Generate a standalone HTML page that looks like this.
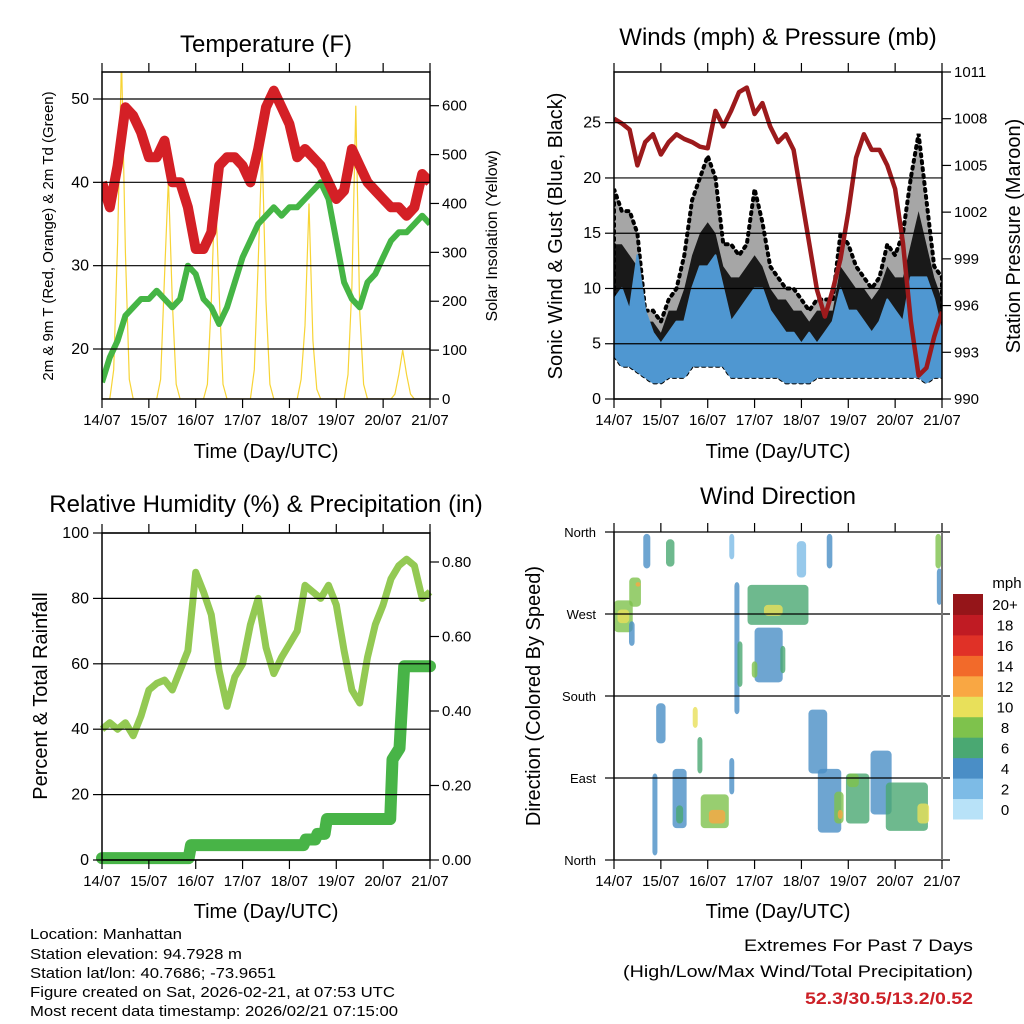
<!DOCTYPE html>
<html><head><meta charset="utf-8">
<style>
html,body{margin:0;padding:0;background:#fff;}
svg{display:block;font-family:"Liberation Sans",sans-serif;}
</style></head>
<body>
<svg id="chart" width="1024" height="1024" viewBox="0 0 1024 1024" xmlns="http://www.w3.org/2000/svg"></svg>
<script>
// ---------- DATA (4-hour steps, t = days since 14/07) ----------
const dayLabels = ["14/07","15/07","16/07","17/07","18/07","19/07","20/07","21/07"];
const tempT = [40,37,42,49,48,46,43,43,45,40,40,37,32,32,34,42,43,43,42,40,44,49,51,49,47,43,44,43,42,40,38,39,44,42,40,39,38,37,37,36,37,41,40];
const dewT = [16,19,21,24,25,26,26,27,26,25,26,30,29,26,25,23,25,28,31,33,35,36,37,36,37,37,38,39,40,38,33,28,26,25,28,29,31,33,34,34,35,36,35];
// solar, 2-hour steps
const solar = [0,0,0,60,320,700,300,40,0,0,0,0,
               0,0,0,40,250,450,200,30,0,0,0,0,
               0,0,0,30,200,440,220,30,0,0,0,0,
               0,0,0,60,280,520,200,30,0,0,0,0,
               0,0,0,40,150,400,120,20,0,0,0,0,
               0,0,0,50,230,600,180,30,0,0,0,0,
               0,0,0,10,50,100,50,10,0,0,0,0,0];
const tempTicks = [20,30,40,50];
const solarTicks = [0,100,200,300,400,500,600];

const pressure = [1008,1007.7,1007.3,1005,1006.5,1007,1005.7,1006.5,1007,1006.7,1006.5,1006.2,1006.1,1008.5,1007.5,1008.5,1009.7,1010,1008.3,1009,1007.5,1006.5,1007,1006,1003,1000,997,995.3,997,999,1002,1005.5,1007,1006,1006,1005,1003.5,1000,995,991.5,992,994,995.6];
const windMax = [9,10,8,13,8,6,5,6,7,7,10,12,12,13,10,7,8,9,10,10,8,7,6,6,5,6,5,6,7,10,8,8,7,6,7,9,8,7,11,11,11,9,6];
const windMin = [4,3,3,2.5,2,1.5,1.5,2,2,2,3,3,3,3,3,2,2,2,2,2,2,2,1.5,1.5,1.5,1.5,2,2,2,2,2,2,2,2,2,2,2,2,2,2,1.5,2,2];
const gustDense = [14,14,13,12,7,7,6,8,8,10,13,15,16,15,12,11,11,12,13,12,10,9,9,8,8,7,8,8,8,12,11,10,10,9,10,12,11,11,14,17,14,11,9];
const gustMax = [19,17,17,15,8,8,7,9,10,13,18,20,22,20,14,14,13,14,19,16,12,11,10,10,9,8,9,9,9,15,14,12,11,10,11,14,13,15,20,24,18,12,11];
const windTicks = [0,5,10,15,20,25];
const pressTicks = [990,993,996,999,1002,1005,1008,1011];

const rh = [40,42,40,42,38,44,52,54,55,52,58,64,88,82,75,58,47,56,60,72,80,65,57,62,66,70,84,82,80,84,78,64,52,48,62,72,78,86,90,92,90,80,82];
const precipT = [0,1.85,1.9,4.3,4.35,4.55,4.6,4.75,4.8,6.15,6.2,6.35,6.45,7.0];
const precipV = [0.005,0.005,0.04,0.04,0.055,0.055,0.07,0.07,0.11,0.11,0.27,0.3,0.52,0.52];
const rhTicks = [0,20,40,60,80,100];
const precipTicks = [0,0.2,0.4,0.6,0.8];

// wind direction clusters: time, dir low, dir high, speed, width(days)
const dirTime = [0.2,0.2,0.45,0.5,0.7,0.38,1.2,1.0,0.85,1.4,1.4,1.72,1.82,2.15,2.2,2.5,2.5,2.62,2.66,3.5,3.4,3.3,3.0,3.6,4.6,4.0,4.35,4.6,4.8,4.8,5.2,5.1,5.7,6.25,6.6,6.92,6.92];
const dirLow = [250,260,278,300,320,235,322,128,5,35,40,145,95,35,40,72,330,160,190,258,268,195,200,205,320,310,95,30,40,45,40,80,50,32,40,320,280];
const dirHigh = [285,275,310,305,358,262,352,172,95,100,60,168,135,72,55,112,358,305,240,302,280,255,218,235,358,350,165,100,75,55,95,95,120,85,62,358,320];
const dirSpeed = [8,10,7,12,4,4,5,4,3,4,6,9,6,8,12,4,2,4,6,6,10,4,7,6,4,2,4,4,8,11,5,7,4,6,10,7,4];
const dirWidth = [0.4,0.25,0.25,0.08,0.15,0.12,0.18,0.2,0.06,0.3,0.15,0.08,0.08,0.6,0.35,0.08,0.08,0.1,0.05,1.3,0.4,0.6,0.12,0.1,0.12,0.2,0.4,0.5,0.2,0.05,0.5,0.25,0.45,0.9,0.25,0.12,0.06];
const dirTickLabels = ["North","East","South","West","North"];
const legendLabels = ["0","2","4","6","8","10","12","14","16","18","20+"];
const legendColors = ["#b8e2f8","#7dbbe6","#4a8ec6","#4aa872","#7ec24c","#e8e05a","#f9a743","#f26a2a","#e03127","#c01b23","#951519"];

// ---------- HELPERS ----------
const NS="http://www.w3.org/2000/svg";
const svg=document.getElementById('chart');
function mk(tag,attrs,parent){const e=document.createElementNS(NS,tag);for(const k in attrs)e.setAttribute(k,attrs[k]);(parent||svg).appendChild(e);return e;}
function txt(s,x,y,size,anchor,parent,extra){const e=mk('text',Object.assign({x:x,y:y,'font-size':size,'text-anchor':anchor||'start',fill:'#000'},extra||{}),parent);e.textContent=s;return e;}
function lin(d0,d1,r0,r1){return v=>r0+(v-d0)/(d1-d0)*(r1-r0);}
function pathFrom(xs,ys){return xs.map((x,i)=>(i?'L':'M')+x.toFixed(1)+' '+ys[i].toFixed(1)).join(' ');}
function bandPath(xx,top,bot){return pathFrom(xx,top)+' '+pathFrom(xx.slice().reverse(),bot.slice().reverse()).replace('M','L')+' Z';}

function frame(g,X0,X1,Y0,Y1,xs,leftTicks,ly,leftLabels,rightTicks,ry,rightLabels){
  leftTicks.forEach(v=>{const l=mk('line',{x1:X0,x2:X1,y1:ly(v),y2:ly(v),stroke:'#000','stroke-width':1.2},g);
    
    });
  const b=mk('rect',{x:X0,y:Y0,width:X1-X0,height:Y1-Y0,fill:'none',stroke:'#000','stroke-width':1.5},g);
  
  
  for(let d=0;d<=7;d++){const x=xs(d);
    mk('line',{x1:x,x2:x,y1:Y0-9,y2:Y0,stroke:'#000','stroke-width':1.2},g);
    mk('line',{x1:x,x2:x,y1:Y1,y2:Y1+9,stroke:'#000','stroke-width':1.2},g);
    const t=txt(dayLabels[d],x,Y1+26,15,'middle',g);
    
    
  }
  leftTicks.forEach((v,i)=>{const y=ly(v);
    mk('line',{x1:X0-9,x2:X0,y1:y,y2:y,stroke:'#000','stroke-width':1.2},g);
    const t=txt(leftLabels[i],X0-13,y+5,16,'end',g);
    
    
  });
  if(rightTicks){rightTicks.forEach((v,i)=>{const y=ry(v);
    mk('line',{x1:X1,x2:X1+9,y1:y,y2:y,stroke:'#000','stroke-width':1.2},g);
    const t=txt(rightLabels[i],X1+12,y+5,15,'start',g);
    
    
  });}
}
function title(s,x,y,size){const t=txt(s,x,y,size||24,'middle');
  
  return t;}
function vlabel(s,x,y,size,name){const t=txt(s,0,0,size,'middle',null,{transform:'translate('+x+','+y+') rotate(-90)'});
  
  return t;}

const step=1/6;
const T43=tempT.map((_,i)=>i*step);

// ---------- PANEL 1: TEMPERATURE ----------
(function(){
  const g=mk('g',{});  
  const X0=102,X1=430,Y0=72,Y1=399;
  const xs=lin(0,7,X0,X1), ly=lin(50,20,99,349), ry=lin(0,600,399,105.7);
  const clip=mk('clipPath',{id:'c1'},g); mk('rect',{x:X0,y:Y0,width:X1-X0,height:Y1-Y0},clip);
  const pg=mk('g',{'clip-path':'url(#c1)'},g);
  const st=solar.map((_,i)=>i/12);
  const s=mk('path',{d:pathFrom(st.map(xs),solar.map(ry)),fill:'none',stroke:'#f7d436','stroke-width':1.2},pg);
   
  const d=mk('path',{d:pathFrom(T43.map(xs),dewT.map(ly)),fill:'none',stroke:'#45b545','stroke-width':6,'stroke-linejoin':'round'},pg);
   
  const r=mk('path',{d:pathFrom(T43.map(xs),tempT.map(ly)),fill:'none',stroke:'#d42026','stroke-width':10,'stroke-linejoin':'round'},pg);
   
  frame(g,X0,X1,Y0,Y1,xs,tempTicks,ly,tempTicks.map(String),solarTicks,ry,solarTicks.map(String));
  title('Temperature (F)',266,52);
  vlabel('2m & 9m T (Red, Orange) & 2m Td (Green)',53,236,15,'y-axis-title');
  vlabel('Solar Insolation (Yellow)',497,236,16,'y2-axis-title');
  const xt=txt('Time (Day/UTC)',266,458,20,'middle');  
})();

// ---------- PANEL 2: WINDS ----------
(function(){
  const g=mk('g',{});  
  const X0=614,X1=942,Y0=72,Y1=399;
  const xs=lin(0,7,X0,X1), ly=lin(0,25,399,122.7), ry=lin(990,1011,399,72);
  const clip=mk('clipPath',{id:'c2'},g); mk('rect',{x:X0,y:Y0,width:X1-X0,height:Y1-Y0},clip);
  const pg=mk('g',{'clip-path':'url(#c2)'},g);
  const xx=T43.map(xs);
  const gs=mk('path',{d:bandPath(xx,gustMax.map(ly),windMin.map(ly)),fill:'#000','fill-opacity':0.35,stroke:'#000','stroke-width':4,'stroke-dasharray':'2 5','stroke-linecap':'round'},pg);
   
  const gp=mk('path',{d:bandPath(xx,gustDense.map(ly),windMin.map(ly)),fill:'#000','fill-opacity':0.85,stroke:'none'},pg);
   
  const bp=mk('path',{d:bandPath(xx,windMax.map(ly),windMin.map(ly)),fill:'#4f97d1',stroke:'#4f97d1','stroke-width':2,'stroke-linejoin':'round'},pg);
   
  const p=mk('path',{d:pathFrom(xx,pressure.map(ry)),fill:'none',stroke:'#9c1a1c','stroke-width':4.5,'stroke-linejoin':'round'},pg);
   
  frame(g,X0,X1,Y0,Y1,xs,windTicks,ly,windTicks.map(String),pressTicks,ry,pressTicks.map(String));
  title('Winds (mph) & Pressure (mb)',778,45);
  vlabel('Sonic Wind & Gust (Blue, Black)',562,236,20,'y-axis-title');
  vlabel('Station Pressure (Maroon)',1020,236,20,'y2-axis-title');
  const xt=txt('Time (Day/UTC)',778,458,20,'middle');  
})();

// ---------- PANEL 3: RH & PRECIP ----------
(function(){
  const g=mk('g',{});  
  const X0=102,X1=430,Y0=533,Y1=860;
  const xs=lin(0,7,X0,X1), ly=lin(0,100,860,533), ry=lin(0,0.8,860,562);
  const clip=mk('clipPath',{id:'c3'},g); mk('rect',{x:X0-8,y:Y0,width:X1-X0+16,height:Y1-Y0+8},clip);
  const pg=mk('g',{'clip-path':'url(#c3)'},g);
  const h=mk('path',{d:pathFrom(T43.map(xs),rh.map(ly)),fill:'none',stroke:'#93c953','stroke-width':7,'stroke-linejoin':'round'},pg);
   
  const pr=mk('path',{d:pathFrom(precipT.map(xs),precipV.map(ry)),fill:'none',stroke:'#48b447','stroke-width':12,'stroke-linejoin':'round','stroke-linecap':'round'},pg);
   
  frame(g,X0,X1,Y0,Y1,xs,rhTicks,ly,rhTicks.map(String),precipTicks,ry,precipTicks.map(v=>v.toFixed(2)));
  title('Relative Humidity (%) & Precipitation (in)',266,512);
  vlabel('Percent & Total Rainfall',47,696,20,'y-axis-title');
  const xt=txt('Time (Day/UTC)',266,918,20,'middle');  
})();

// ---------- PANEL 4: WIND DIRECTION ----------
(function(){
  const g=mk('g',{});  
  const X0=614,X1=942,Y0=532,Y1=860;
  const xs=lin(0,7,X0,X1), ly=lin(0,360,860,532);
  const cg=mk('g',{},g);
  dirTime.forEach((t,i)=>{
    const x0=xs(t-dirWidth[i]/2), x1=xs(t+dirWidth[i]/2);
    const idx=Math.min(10,Math.round(dirSpeed[i]/2));
    const r=mk('rect',{x:x0,y:ly(dirHigh[i]),width:Math.max(5,x1-x0),height:ly(dirLow[i])-ly(dirHigh[i]),rx:4,fill:legendColors[idx],'fill-opacity':0.8},cg);
    
    
  });
  const dt=[0,90,180,270,360];
  dt.forEach(v=>{const l=mk('line',{x1:X0,x2:X1+8,y1:ly(v),y2:ly(v),stroke:'#000','stroke-width':1.2},g);
     });
  mk('line',{x1:X0,x2:X0,y1:Y0,y2:Y1,stroke:'#000','stroke-width':1.5},g);
  mk('line',{x1:X1,x2:X1,y1:Y0,y2:Y1,stroke:'#777','stroke-width':2},g);
  for(let d=0;d<=7;d++){const x=xs(d);
    mk('line',{x1:x,x2:x,y1:Y0-9,y2:Y0,stroke:'#000','stroke-width':1.2},g);
    mk('line',{x1:x,x2:x,y1:Y1,y2:Y1+9,stroke:'#000','stroke-width':1.2},g);
    const t=txt(dayLabels[d],x,Y1+26,15,'middle',g);
     }
  dt.forEach((v,i)=>{const y=ly(v);
    mk('line',{x1:X0-9,x2:X0,y1:y,y2:y,stroke:'#000','stroke-width':1.2},g);
    const t=txt(dirTickLabels[i],X0-18,y+5,13,'end',g);
     });
  title('Wind Direction',778,504);
  vlabel('Direction (Colored By Speed)',540,696,20,'y-axis-title');
  const xt=txt('Time (Day/UTC)',778,918,20,'middle');  
  const lg=mk('g',{},g);  
  const bh=(819-594)/11;
  legendColors.forEach((c,i)=>{const y=819-(i+1)*bh;
    const r=mk('rect',{x:953,y:y,width:30,height:bh+0.5,fill:c},lg);
     
    const t=txt(legendLabels[i],1005,y+bh/2+6,15,'middle',lg);
     });
  const m=txt('mph',1007,588,15,'middle',lg);  
})();

// ---------- FOOTER ----------
(function(){
  const g=mk('g',{});  
  const lines=["Location: Manhattan","Station elevation: 94.7928 m","Station lat/lon: 40.7686; -73.9651","Figure created on Sat, 2026-02-21, at 07:53 UTC","Most recent data timestamp: 2026/02/21 07:15:00"];
  const widths=[152,212,246,365,368];
  const ys=[939,959,978,997,1016];
  lines.forEach((s,i)=>{const t=txt(s,30,ys[i],15,'start',g,{textLength:widths[i],lengthAdjust:'spacingAndGlyphs'});
     });
  const a=txt('Extremes For Past 7 Days',973,951,17,'end',g,{textLength:229,lengthAdjust:'spacingAndGlyphs'});
   
  const b=txt('(High/Low/Max Wind/Total Precipitation)',973,977,17,'end',g,{textLength:350,lengthAdjust:'spacingAndGlyphs'});
   
  const c=txt('52.3/30.5/13.2/0.52',973,1004,17,'end',g,{fill:'#cc2027','font-weight':'bold',textLength:168,lengthAdjust:'spacingAndGlyphs'});
   
})();
</script>
</body></html>
